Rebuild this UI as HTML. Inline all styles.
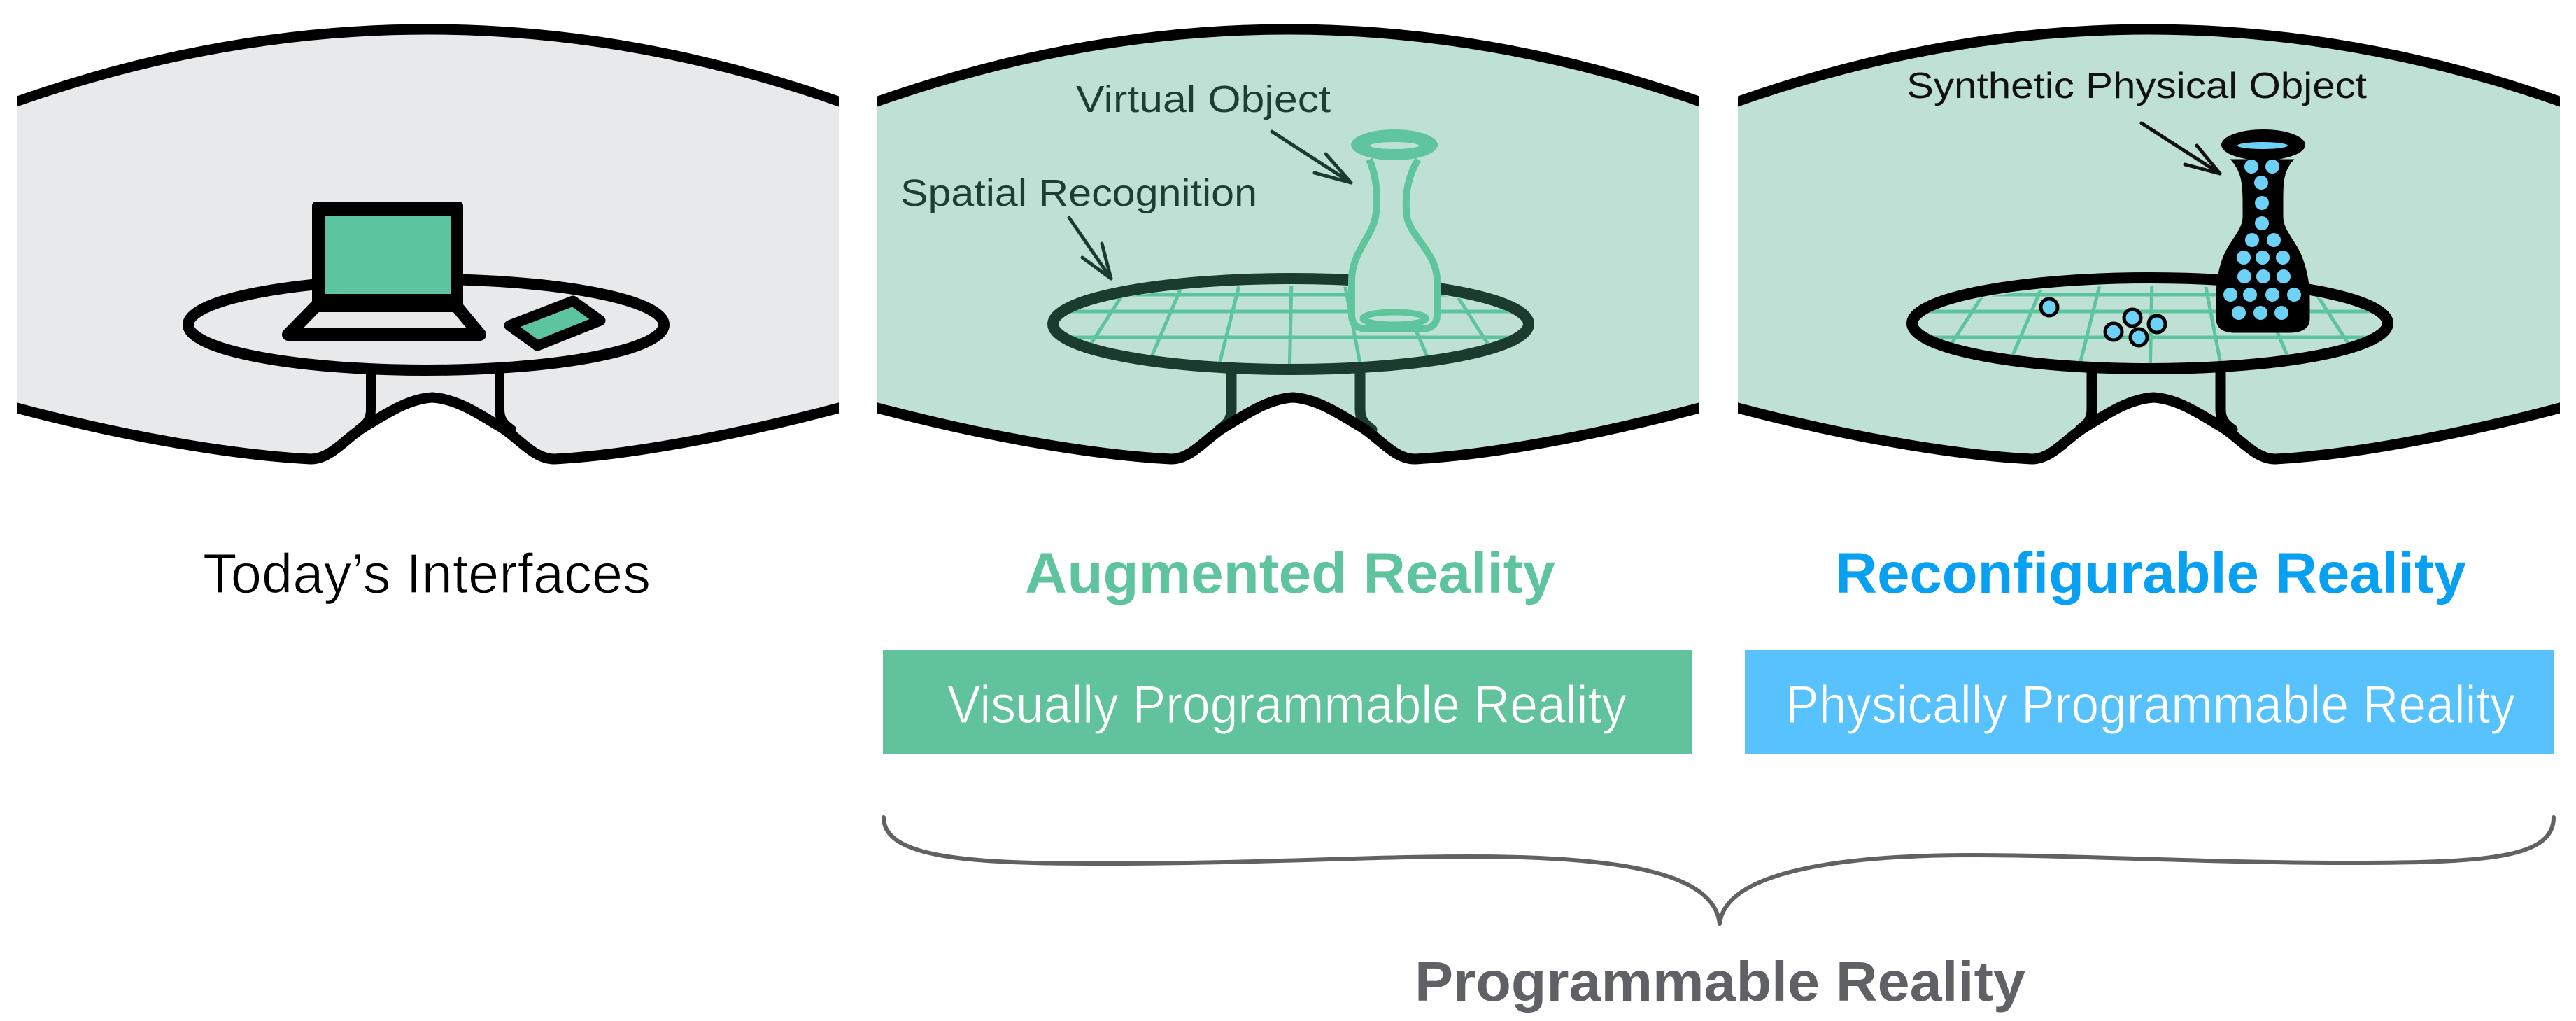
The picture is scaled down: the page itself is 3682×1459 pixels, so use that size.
<!DOCTYPE html>
<html>
<head>
<meta charset="utf-8">
<style>
html,body{margin:0;padding:0;background:#fff;}
svg{display:block;}
</style>
</head>
<body>
<svg width="3682" height="1459" viewBox="0 0 3682 1459" xmlns="http://www.w3.org/2000/svg">
<defs>
  <clipPath id="pc"><rect x="0" y="-20" width="1175" height="740"/></clipPath>
  <clipPath id="tc"><ellipse cx="589" cy="465" rx="332" ry="57"/></clipPath>
  <clipPath id="v3c"><path d="M3191,229 C3205,245 3207,262 3207,290 L3207,310 C3207,330 3187,345 3178,370 C3170,392 3169,410 3169,430 L3169,455 Q3169,474 3195,474 L3272,474 Q3300,474 3300,455 L3300,430 C3300,410 3298,392 3290,370 C3281,345 3262,330 3262,310 L3262,290 C3262,262 3262,245 3276,229 Z"/></clipPath>
  <path id="fillshape" d="M0,145 Q587.5,-61 1175,145 L1175,583 C1035,620 880,650 768,656 C738,656 718,625 688,608 C658,590 628,570 594,568 C560,570 530,590 500,608 C470,625 450,656 420,656 C300,650 140,620 0,583 Z"/>
  <path id="topband" d="M0,137.5 Q587.5,-68.5 1175,137.5 L1175,152.5 Q587.5,-53.5 0,152.5 Z"/>
  <path id="bottomline" d="M-20,578 L0,583 C140,620 300,650 420,656 C450,656 470,625 500,608 C530,590 560,570 594,568 C628,570 658,590 688,608 C718,625 738,656 768,656 C880,650 1035,620 1175,583 L1195,578"/>
  <g id="legs">
    <path d="M506,528 L506,585 C506,600 500,606 489,614"/>
    <path d="M690,528 L690,585 C690,600 696,606 707,614"/>
  </g>
  <g id="grid" clip-path="url(#tc)" stroke="#5cc49e" stroke-width="5" fill="none">
    <line x1="150" y1="421" x2="1030" y2="421"/>
    <line x1="150" y1="445" x2="1030" y2="445"/>
    <line x1="150" y1="482" x2="1030" y2="482"/>
    <line x1="274" y1="540" x2="364" y2="400"/>
    <line x1="379" y1="540" x2="439" y2="400"/>
    <line x1="484" y1="540" x2="519" y2="400"/>
    <line x1="589" y1="540" x2="592" y2="400"/>
    <line x1="694" y1="540" x2="667" y2="400"/>
    <line x1="799" y1="540" x2="739" y2="400"/>
    <line x1="904" y1="540" x2="814" y2="400"/>
  </g>
</defs>

<!-- Panel 1 -->
<g transform="translate(24,0)">
  <use href="#fillshape" fill="#e8e9eb"/>
  <use href="#legs" fill="none" stroke="#000" stroke-width="14" stroke-linecap="round"/>
  <ellipse cx="585" cy="464" rx="340" ry="65" fill="none" stroke="#000" stroke-width="16"/>
  <use href="#topband" fill="#000"/>
  <g clip-path="url(#pc)"><use href="#bottomline" fill="none" stroke="#000" stroke-width="15" stroke-linejoin="round"/></g>
</g>

<!-- Panel 2 -->
<g transform="translate(1254,0)">
  <use href="#fillshape" fill="#bfe0d4"/>
  <use href="#grid"/>
  <use href="#legs" fill="none" stroke="#1b3b2f" stroke-width="15" stroke-linecap="round"/>
  <ellipse cx="591" cy="463" rx="340" ry="65" fill="none" stroke="#1b3b2f" stroke-width="16"/>
  <use href="#topband" fill="#000"/>
  <g clip-path="url(#pc)"><use href="#bottomline" fill="none" stroke="#000" stroke-width="15" stroke-linejoin="round"/></g>
</g>

<!-- Panel 3 -->
<g transform="translate(2484,0)">
  <use href="#fillshape" fill="#bfe0d4"/>
  <use href="#grid"/>
  <use href="#legs" fill="none" stroke="#000" stroke-width="15" stroke-linecap="round"/>
  <ellipse cx="589" cy="462" rx="340" ry="65" fill="none" stroke="#000" stroke-width="16"/>
  <use href="#topband" fill="#000"/>
  <g clip-path="url(#pc)"><use href="#bottomline" fill="none" stroke="#000" stroke-width="15" stroke-linejoin="round"/></g>
</g>

<!-- Laptop & phone (panel 1) -->
<polygon points="452,437 652,437 686,478 412,478" fill="none" stroke="#000" stroke-width="18" stroke-linejoin="round"/>
<rect x="446" y="288" width="216" height="151" rx="6" fill="#000"/>
<rect x="464" y="308" width="180" height="112" fill="#5cc49e"/>
<polygon points="728,465 819,430 858,458 768,494" fill="#5cc49e" stroke="#000" stroke-width="15" stroke-linejoin="round"/>

<!-- Panel 2 labels & arrows -->
<g font-family="'Liberation Sans',Arial,sans-serif" font-size="54" fill="#1d3f33">
  <text x="1538" y="160" textLength="364" lengthAdjust="spacingAndGlyphs">Virtual Object</text>
  <text x="1287" y="294" textLength="510" lengthAdjust="spacingAndGlyphs">Spatial Recognition</text>
</g>
<g fill="none" stroke="#1b3b2f" stroke-width="5" stroke-linecap="round" stroke-linejoin="round">
  <path d="M1818,188 L1931,261"/>
  <path d="M1879,247 L1931,261 L1895,220"/>
  <path d="M1528,311 L1588,398"/>
  <path d="M1547,368 L1588,398 L1575,348"/>
</g>

<!-- Virtual vase -->
<path d="M1957,228 C1968,252 1970,282 1966,310 C1961,338 1932,362 1932,400 L1932,450 Q1932,470 1955,470 L2031,470 Q2054,470 2054,450 L2054,400 C2054,362 2016,338 2011,310 C2007,282 2012,252 2027,228" fill="#bfe0d4" stroke="#5ec59e" stroke-width="10" stroke-linejoin="round"/>
<ellipse cx="1993" cy="455" rx="45" ry="9" fill="#bfe0d4" stroke="#5ec59e" stroke-width="9"/>
<ellipse cx="1993" cy="207" rx="62" ry="22" fill="#5ec59e"/>
<ellipse cx="1993" cy="208" rx="35" ry="5" fill="#bfe0d4"/>

<!-- Panel 3 label & arrow -->
<text x="2725" y="140" font-family="'Liberation Sans',Arial,sans-serif" font-size="52" fill="#111" textLength="658" lengthAdjust="spacingAndGlyphs">Synthetic Physical Object</text>
<g fill="none" stroke="#111" stroke-width="5" stroke-linecap="round" stroke-linejoin="round">
  <path d="M3061,176 L3173,248"/>
  <path d="M3123,235 L3173,248 L3140,208"/>
</g>

<!-- Table dots -->
<g fill="#6dd2f7" stroke="#000" stroke-width="5">
  <circle cx="2929" cy="439" r="12"/>
  <circle cx="3048" cy="454" r="12"/>
  <circle cx="3083" cy="463" r="12"/>
  <circle cx="3021" cy="474" r="12"/>
  <circle cx="3057" cy="482" r="12"/>
</g>

<!-- Physical vase -->
<path d="M3191,229 C3205,245 3207,262 3207,290 L3207,310 C3207,330 3187,345 3178,370 C3170,392 3169,410 3169,430 L3169,455 Q3169,474 3195,474 L3272,474 Q3300,474 3300,455 L3300,430 C3300,410 3298,392 3290,370 C3281,345 3262,330 3262,310 L3262,290 C3262,262 3262,245 3276,229 Z" fill="#000" stroke="#000" stroke-width="3"/>
<g clip-path="url(#v3c)" fill="#6dd2f7">
  <circle cx="3218" cy="238" r="10"/><circle cx="3248" cy="238" r="10"/>
  <circle cx="3232" cy="261" r="10"/>
  <circle cx="3233" cy="290" r="10"/>
  <circle cx="3233" cy="319" r="10"/>
  <circle cx="3219" cy="343" r="10"/><circle cx="3250" cy="343" r="10"/>
  <circle cx="3207" cy="368" r="10"/><circle cx="3234" cy="368" r="10"/><circle cx="3263" cy="368" r="10"/>
  <circle cx="3208" cy="395" r="10"/><circle cx="3235" cy="395" r="10"/><circle cx="3264" cy="395" r="10"/>
  <circle cx="3188" cy="421" r="10"/><circle cx="3216" cy="421" r="10"/><circle cx="3248" cy="421" r="10"/><circle cx="3279" cy="421" r="10"/>
  <circle cx="3200" cy="447" r="10"/><circle cx="3231" cy="447" r="10"/><circle cx="3261" cy="447" r="10"/>
</g>
<ellipse cx="3235" cy="207" rx="60" ry="22" fill="#000"/>
<ellipse cx="3234" cy="208" rx="36" ry="5" fill="#6dd2f7"/>

<!-- Headings -->
<g font-family="'Liberation Sans',Arial,sans-serif">
  <text x="290" y="847" font-size="80" fill="#000" stroke="#fff" stroke-width="1.2" textLength="640" lengthAdjust="spacingAndGlyphs">Today’s Interfaces</text>
  <text x="1465" y="847" font-size="82" font-weight="bold" fill="#5ec49d" textLength="758" lengthAdjust="spacingAndGlyphs">Augmented Reality</text>
  <text x="2623" y="847" font-size="82" font-weight="bold" fill="#08a0f2" textLength="902" lengthAdjust="spacingAndGlyphs">Reconfigurable Reality</text>
</g>

<!-- Boxes -->
<rect x="1262" y="929" width="1156" height="148" fill="#60c39c"/>
<rect x="2494" y="929" width="1157" height="148" fill="#57c2fd"/>
<g font-family="'Liberation Sans',Arial,sans-serif" font-size="76" fill="#fff">
  <text x="1354" y="1033" textLength="971" lengthAdjust="spacingAndGlyphs" stroke="#60c39c" stroke-width="1">Visually Programmable Reality</text>
  <text x="2552" y="1033" textLength="1043" lengthAdjust="spacingAndGlyphs" stroke="#57c2fd" stroke-width="1">Physically Programmable Reality</text>
</g>

<!-- Brace -->
<g fill="none" stroke="#5f6163" stroke-width="6" stroke-linecap="round">
  <path d="M1263,1168 C1263,1225 1380,1234 1569,1234 C1800,1234 1950,1224 2100,1224 C2320,1224 2450,1248 2458,1320"/>
  <path d="M2458,1320 C2466,1248 2620,1222 2820,1222 C2970,1222 3150,1233 3360,1233 C3560,1233 3650,1225 3650,1168"/>
</g>

<text x="2022" y="1430" font-family="'Liberation Sans',Arial,sans-serif" font-size="80" font-weight="bold" fill="#5f6164" textLength="873" lengthAdjust="spacingAndGlyphs">Programmable Reality</text>
</svg>
</body>
</html>
